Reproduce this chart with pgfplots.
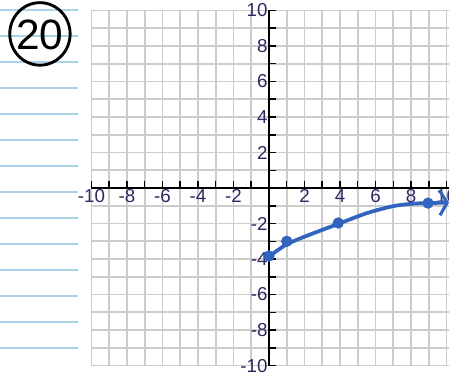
\documentclass[border=0pt]{standalone}
\usepackage{fontspec}
\setmainfont{Liberation Sans}
\usepackage{pgfplots}
\pgfplotsset{compat=1.18}
\usetikzlibrary{arrows.meta}

\definecolor{curveblue}{RGB}{49,100,190}
\definecolor{labelnavy}{RGB}{45,40,95}
\definecolor{gridgray}{RGB}{204,204,204}
\definecolor{paperline}{RGB}{170,210,232}

\begin{document}
\begin{tikzpicture}
\begin{axis}[
  x=0.5cm, y=0.5cm,
  xmin=-10, xmax=10.14, ymin=-10, ymax=10,
  axis lines=middle,
  axis line style={-, line width=1.5pt, black},
  clip=false,
  xtick={-10,-8,-6,-4,-2,2,4,6,8,10},
  xticklabels={-10,-8,-6,-4,-2,2,4,6,8,10},
  ytick={-10,-8,-6,-4,-2,2,4,6,8,10},
  yticklabels={-10,-8,-6,-4,-2,2,4,6,8,10},
  minor xtick={-9,-7,...,9},
  minor ytick={-9,-7,...,9},
  grid=both,
  grid style={gridgray, line width=1.4pt},
  minor grid style={gridgray, line width=1.4pt},
  tick align=inside,
  major tick length=5.5pt, minor tick length=5.5pt,
  tick style={black, line width=1.2pt},
  ticklabel style={font=\fontsize{15}{16}\selectfont, text=labelnavy, inner sep=1pt},
]
% data
\addplot[curveblue, line width=3pt, smooth, tension=0.5,
  -{Straight Barb[length=6pt, width=20pt, line width=2.5pt]}]
  coordinates {(0,-3.85)(0.5,-3.5)(1,-3.17)(1.9,-2.78)(3,-2.36)(3.9,-2.02)(5.5,-1.42)(7,-1.02)(8.15,-0.88)(9,-0.85)(10.14,-0.82)};
\addplot[only marks, mark=*, mark size=4.3pt, curveblue]
  coordinates {(0,-3.83)(1,-3.0)(3.9,-1.97)(8.96,-0.85)};

% notebook paper on the left
\foreach \k in {0,...,13} {
  \pgfmathsetmacro{\yy}{(188-(10+26*\k))/17.75}
  \edef\tmp{\noexpand\draw[paperline, line width=1.1pt] (axis cs:-15.15,\yy) -- (axis cs:-10.76,\yy);}
  \tmp
}
% circled problem number
\draw[line width=2.3pt] (axis cs:-12.9,8.68) ellipse [x radius=0.85cm, y radius=0.88cm];
\node[font=\fontsize{34}{34}\selectfont] at (axis cs:-12.9,8.6) {20};

\coordinate (bl) at (axis cs:-15.15,-10.51);
\coordinate (tr) at (axis cs:10.14,10.59);
\end{axis}
\pgfresetboundingbox
\path[use as bounding box] (bl) rectangle (tr);
\end{tikzpicture}
\end{document}
